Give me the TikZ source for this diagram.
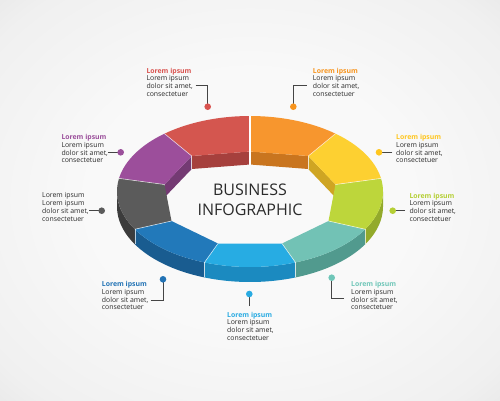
\documentclass[tikz,border=0pt]{standalone}
\usepackage{fontspec}
\setmainfont{Open Sans}
\usetikzlibrary{calc}
\definecolor{bgA}{HTML}{F9F9F9}
\definecolor{bgB}{HTML}{F0F0F0}
\definecolor{bgC}{HTML}{D4D4D4}
\definecolor{txt}{HTML}{2B2B2B}
\definecolor{conncol}{HTML}{454545}
\definecolor{redT}{HTML}{D4564F}\definecolor{redW}{HTML}{A6403D}
\definecolor{orgT}{HTML}{F7962E}\definecolor{orgW}{HTML}{C9751F}
\definecolor{yelT}{HTML}{FDD031}\definecolor{yelW}{HTML}{CFA523}
\definecolor{grnT}{HTML}{BDD63B}\definecolor{grnW}{HTML}{93AA2B}
\definecolor{tealT}{HTML}{72C2B5}\definecolor{tealW}{HTML}{519A8E}
\definecolor{cyanT}{HTML}{27ACE3}\definecolor{cyanW}{HTML}{1B8AC0}
\definecolor{bluT}{HTML}{2279BA}\definecolor{bluW}{HTML}{195C90}
\definecolor{gryT}{HTML}{5B5B5B}\definecolor{gryW}{HTML}{3C3C3C}
\definecolor{purT}{HTML}{9C4E9B}\definecolor{purW}{HTML}{743A73}
\definecolor{redL}{HTML}{D9534F}
\definecolor{orgL}{HTML}{F7941D}
\definecolor{yelL}{HTML}{FFC61E}
\definecolor{grnL}{HTML}{B5CF35}
\definecolor{tealL}{HTML}{6FC6B8}
\definecolor{cyanL}{HTML}{29ABE2}
\definecolor{bluL}{HTML}{2273B5}
\definecolor{purL}{HTML}{9B4F9B}
\pgfdeclareradialshading{bgshade}{\pgfpoint{0bp}{0bp}}{color(0bp)=(bgA); color(16bp)=(bgA); color(32bp)=(bgB); color(50bp)=(bgC)}
% outer top ellipse: centre (250,191.5), rx 133, ry 75.5; wall depth 15
\newcommand\ringtop[5]{\fill[#5] plot[domain=#1:#2,samples=24,variable=\t] ({250+133*cos(\t)},{191.5-75.5*sin(\t)}) -- (#4) -- (#3) -- cycle;}
\newcommand\ringout[3]{\fill[#3] plot[domain=#1:#2,samples=24,variable=\t] ({250+133*cos(\t)},{191.5-75.5*sin(\t)}) -- plot[domain=#2:#1,samples=24,variable=\t] ({250+133*cos(\t)},{206.5-75.5*sin(\t)}) -- cycle;}
\newcommand\ringin[3]{\fill[#3] (#1) -- (#2) -- ($(#2)+(0,13)$) -- ($(#1)+(0,13)$) -- cycle;}
\newcommand\seamtop[3]{\draw[seamline,#3] ({250+133*cos(#1)},{191.5-75.5*sin(#1)}) -- (#2);}
\newcommand\seamout[2]{\draw[seamline,#2] ({250+133*cos(#1)},{191.5-75.5*sin(#1)}) -- ({250+133*cos(#1)},{206.5-75.5*sin(#1)});}
\newcommand\seamin[2]{\draw[seamline,#2] (#1) -- ($(#1)+(0,13)$);}
\begin{document}
\begin{tikzpicture}[x=1pt,y=-1pt,
  seamline/.style={draw=white,line width=0.6pt,opacity=0.7},
  lbl/.style={anchor=north west,inner sep=0pt,align=left,text=txt,font=\fontsize{6.9}{7.8}\selectfont},
  conn/.style={draw=conncol,line width=0.9pt},
  dotmark/.style={circle,inner sep=0pt,minimum size=6.6pt}]
\useasboundingbox (0,0) rectangle (500,400);
\shade[shading=bgshade] (0,0) rectangle (500,400);
% inner vertices of the ring
\coordinate (i90) at (250,151.5);
\coordinate (i130) at (191.7,156);
\coordinate (i170) at (164.5,184.5);
\coordinate (i210) at (171.5,221);
\coordinate (i250) at (218,243.5);
\coordinate (i290) at (282,243.5);
\coordinate (i330) at (328.5,221);
\coordinate (i10) at (335.5,184.5);
\coordinate (i50) at (308.3,156);
% inner walls (back)
\ringin{i10}{i50}{yelW}
\ringin{i50}{i90}{orgW}
\ringin{i90}{i130}{redW}
\ringin{i130}{i170}{purW}
% outer walls (front)
\ringout{180}{210}{gryW}
\ringout{210}{250}{bluW}
\ringout{250}{290}{cyanW}
\ringout{290}{330}{tealW}
\ringout{330}{360}{grnW}
% top faces
\ringtop{90}{130}{i90}{i130}{redT}
\ringtop{130}{170}{i130}{i170}{purT}
\ringtop{170}{210}{i170}{i210}{gryT}
\ringtop{210}{250}{i210}{i250}{bluT}
\ringtop{250}{290}{i250}{i290}{cyanT}
\ringtop{290}{330}{i290}{i330}{tealT}
\ringtop{330}{370}{i330}{i10}{grnT}
\ringtop{10}{50}{i10}{i50}{yelT}
\ringtop{50}{90}{i50}{i90}{orgT}
% seams
\seamtop{90}{i90}{line width=2pt,opacity=1}
\seamin{i90}{line width=2pt,opacity=1}
\seamtop{130}{i130}{}\seamin{i130}{}
\seamtop{170}{i170}{}
\seamtop{210}{i210}{}\seamout{210}{}
\seamtop{250}{i250}{}\seamout{250}{}
\seamtop{290}{i290}{}\seamout{290}{}
\seamtop{330}{i330}{}\seamout{330}{}
\seamtop{10}{i10}{}
\seamtop{50}{i50}{}\seamin{i50}{}
% centre title
\node[align=center,text=txt,font=\fontsize{16}{20}\selectfont,inner sep=0pt] (title) at (250,200) {BUSINESS\\INFOGRAPHIC};
% labels
\node[lbl] (l1) at (146.3,67.6) {{\color{redL}\bfseries Lorem ipsum}\\Lorem ipsum\\dolor sit amet,\\consectetuer};
\node[lbl] (l2) at (312.7,67.6) {{\color{orgL}\bfseries Lorem ipsum}\\Lorem ipsum\\dolor sit amet,\\consectetuer};
\node[lbl] (l3) at (396,134) {{\color{yelL}\bfseries Lorem ipsum}\\Lorem ipsum\\dolor sit amet,\\consectetuer};
\node[lbl] (l4) at (409.3,192.6) {{\color{grnL}\bfseries Lorem ipsum}\\Lorem ipsum\\dolor sit amet,\\consectetuer};
\node[lbl] (l5) at (351,281) {{\color{tealL}\bfseries Lorem ipsum}\\Lorem ipsum\\dolor sit amet,\\consectetuer};
\node[lbl] (l6) at (227,311.6) {{\color{cyanL}\bfseries Lorem ipsum}\\Lorem ipsum\\dolor sit amet,\\consectetuer};
\node[lbl] (l7) at (101.7,281) {{\color{bluL}\bfseries Lorem ipsum}\\Lorem ipsum\\dolor sit amet,\\consectetuer};
\node[lbl] (l8) at (42,192.6) {Lorem ipsum\\Lorem ipsum\\dolor sit amet,\\consectetuer};
\node[lbl] (l9) at (61.3,134) {{\color{purL}\bfseries Lorem ipsum}\\Lorem ipsum\\dolor sit amet,\\consectetuer};
% connector ends
\coordinate (c1) at (195.5,85.7);
\coordinate (c2) at (306.5,85.7);
\coordinate (c3) at (392.3,152.3);
\coordinate (c4) at (405,210.7);
\coordinate (c5) at (344,298.3);
\coordinate (c6) at (249.3,306);
\coordinate (c7) at (150.7,300);
\coordinate (c8) at (89.3,210.7);
\coordinate (c9) at (108.3,152.3);
% dot positions
\coordinate (p1) at (207.7,106.7);
\coordinate (p2) at (293.3,106.7);
\coordinate (p3) at (379,152.3);
\coordinate (p4) at (392.7,210.7);
\coordinate (p5) at (331.7,277.7);
\coordinate (p6) at (249.3,294);
\coordinate (p7) at (163,279.3);
\coordinate (p8) at (101.7,210.7);
\coordinate (p9) at (120.7,152.3);
\draw[conn] (c1) -| (p1);
\draw[conn] (c2) -| (p2);
\draw[conn] (c3) -- (p3);
\draw[conn] (c4) -- (p4);
\draw[conn] (c5) -| (p5);
\draw[conn] (c6) -- (p6);
\draw[conn] (c7) -| (p7);
\draw[conn] (c8) -- (p8);
\draw[conn] (c9) -- (p9);
\node[dotmark,fill=redL] (d1) at (p1) {};
\node[dotmark,fill=orgL] (d2) at (p2) {};
\node[dotmark,fill=yelL] (d3) at (p3) {};
\node[dotmark,fill=grnL] (d4) at (p4) {};
\node[dotmark,fill=tealL] (d5) at (p5) {};
\node[dotmark,fill=cyanL] (d6) at (p6) {};
\node[dotmark,fill=bluL] (d7) at (p7) {};
\node[dotmark,fill=gryT] (d8) at (p8) {};
\node[dotmark,fill=purL] (d9) at (p9) {};
\end{tikzpicture}
\end{document}
